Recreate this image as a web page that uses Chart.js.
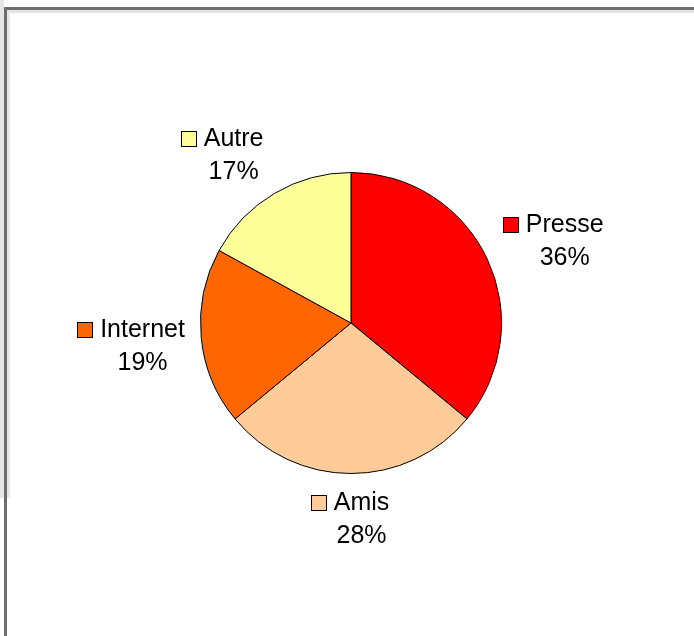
<!DOCTYPE html>
<html>
<head>
<meta charset="utf-8">
<script src="https://cdn.jsdelivr.net/npm/chart.js@4/dist/chart.umd.min.js"></script>
<style>
  html, body { margin: 0; padding: 0; background: #fff; }
  #page { position: relative; width: 694px; height: 636px; overflow: hidden; }
  .strip { position: absolute; }
  canvas { position: absolute; left: 0; top: 0; }
</style>
</head>
<body>
<div id="page">
  <div class="strip" style="left:0;top:0;width:4px;height:498px;background:#e6e6e6"></div>
  <div class="strip" style="left:4px;top:7px;width:690px;height:3px;background:#6e6e6e"></div>
  <div class="strip" style="left:4px;top:7px;width:3px;height:629px;background:#6e6e6e"></div>
  <div class="strip" style="left:7px;top:10px;width:687px;height:3px;background:#e6e6e6"></div>
  <div class="strip" style="left:7px;top:10px;width:3px;height:488px;background:#e6e6e6"></div>
  <canvas id="myChart" width="694" height="636"></canvas>
</div>
<script>
// catégories et valeurs (en %)
var labels = ["Presse", "Amis", "Internet", "Autre"];
var values = [36, 28, 19, 17];
var colors = ["#FF0000", "#FFCC99", "#FF6600", "#FFFF99"];

// position des étiquettes, en rayons depuis le centre
var labelOffsets = [[1.42, -0.56], [0.07, 1.29], [-1.385, 0.14], [-0.78, -1.13]];

var sliceLabels = {
  id: "sliceLabels",
  afterDraw: function (chart) {
    var ctx = chart.ctx;
    var arcs = chart.getDatasetMeta(0).data;
    var total = values.reduce(function (a, b) { return a + b; }, 0);
    ctx.save();
    ctx.font = "25px 'Liberation Sans', Arial, sans-serif";
    ctx.fillStyle = "#000";
    ctx.textAlign = "center";
    ctx.textBaseline = "alphabetic";
    for (var i = 0; i < arcs.length; i++) {
      var arc = arcs[i];
      var r = arc.outerRadius;
      var cx = arc.x + labelOffsets[i][0] * r;
      var cy = arc.y + labelOffsets[i][1] * r;
      var line1 = labels[i];
      var line2 = Math.round(values[i] / total * 100) + "%";
      var base1 = cy - 7;
      var base2 = base1 + 33;
      ctx.fillStyle = "#000";
      ctx.fillText(line1, cx, base1);
      ctx.fillText(line2, cx, base2);
      // petite clé de légende
      var w = ctx.measureText(line1).width;
      var bx = Math.round(cx - w / 2 - 8 - 15) + 0.5;
      var by = Math.round(base1 - 15) + 0.5;
      ctx.fillStyle = colors[i];
      ctx.fillRect(bx, by, 15, 15);
      ctx.strokeStyle = "#000";
      ctx.lineWidth = 1;
      ctx.strokeRect(bx, by, 15, 15);
    }
    ctx.restore();
  }
};

var chart = new Chart(document.getElementById("myChart"), {
  type: "pie",
  data: {
    labels: labels,
    datasets: [{
      data: values,
      backgroundColor: colors,
      borderColor: "#000",
      borderWidth: 1
    }]
  },
  options: {
    responsive: false,
    animation: false,
    layout: { padding: { left: 200, right: 192, top: 172, bottom: 162 } },
    plugins: {
      legend: { display: false },
      tooltip: { enabled: false }
    }
  },
  plugins: [sliceLabels]
});
</script>
</body>
</html>
